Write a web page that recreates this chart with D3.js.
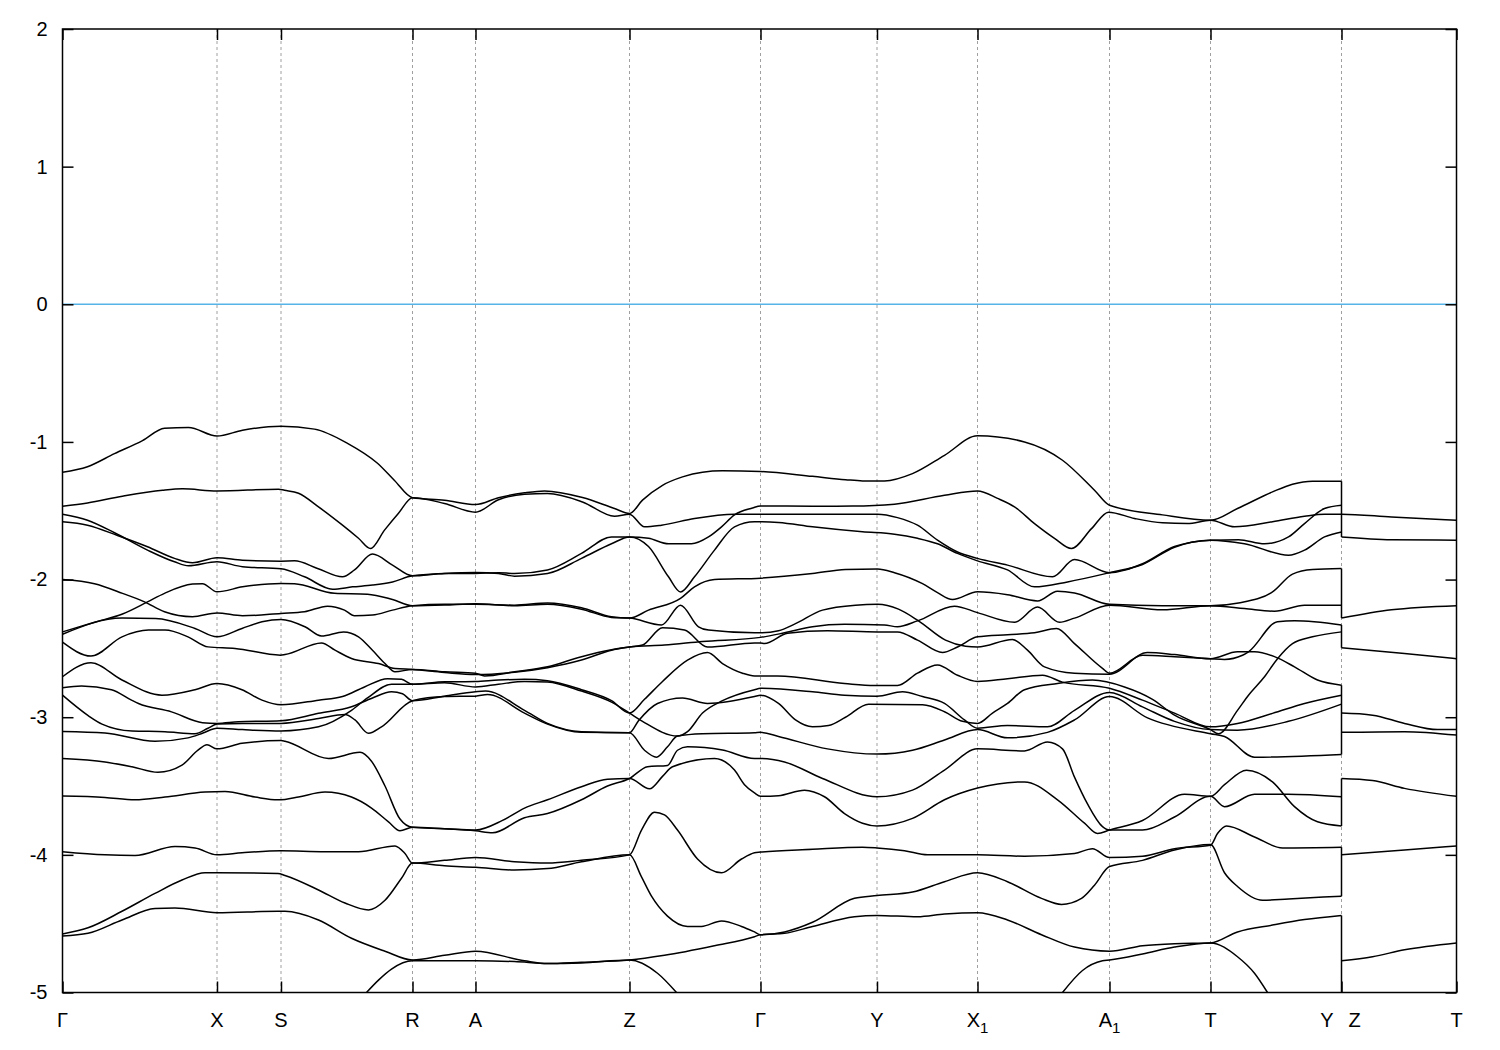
<!DOCTYPE html>
<html><head><meta charset="utf-8">
<script src="https://cdn.jsdelivr.net/npm/d3@7"></script>
<style>body{margin:0;background:#fff} svg{display:block}</style>
</head><body>
<svg id="c" width="1500" height="1050"></svg>
<script>
// High-symmetry path (path-length units) and labels
const kTicks = [0,154.5,218.5,350,413,567,698,814.5,915,1047,1148,1279,1394];
const kLabels = ["Γ","X","S","R","A","Z","Γ","Y","X_1","A_1","T","Y|Z","T"];
const yTicks = [2,1,0,-1,-2,-3,-4,-5];
const kBreak = 1279;

// Bands: [k, E(eV)]
const band01 = [[0,-1.22],[25,-1.18],[52,-1.085],[80,-0.99],[102,-0.90],[126,-0.895],[154.5,-0.957],[180,-0.915],[218.5,-0.886],[252,-0.907],[285,-1.01],[315,-1.155],[332,-1.28],[350,-1.405],[382,-1.423],[413,-1.455],[436,-1.405],[462,-1.37],[482,-1.356],[520,-1.404],[552,-1.484],[567,-1.52],[580,-1.423],[600,-1.315],[620,-1.254],[640,-1.22],[660,-1.21],[698,-1.215],[750,-1.25],[783,-1.274],[800,-1.283],[822,-1.283],[850,-1.23],[882,-1.097],[915,-0.955],[962,-1.0],[1000,-1.133],[1032,-1.351],[1047,-1.46],[1100,-1.53],[1148,-1.569],[1175,-1.484],[1210,-1.363],[1230,-1.307],[1250,-1.285],[1279,-1.285]];
const band02 = [[0,-1.467],[25,-1.443],[60,-1.394],[100,-1.351],[120,-1.341],[154.5,-1.356],[216,-1.343],[222,-1.351],[236,-1.373],[256,-1.472],[280,-1.605],[296,-1.70],[308,-1.774],[322,-1.641],[336,-1.518],[350,-1.405],[382,-1.447],[413,-1.51],[436,-1.42],[462,-1.38],[485,-1.375],[520,-1.436],[552,-1.54],[567,-1.525],[582,-1.617],[599,-1.605],[632,-1.556],[672,-1.525],[698,-1.525],[750,-1.525],[815,-1.525],[835,-1.55],[855,-1.605],[875,-1.714],[895,-1.80],[915,-1.846],[945,-1.895],[990,-1.98],[1012,-1.855],[1047,-1.95],[1080,-1.885],[1112,-1.76],[1148,-1.714],[1176,-1.71],[1202,-1.74],[1226,-1.69],[1242,-1.593],[1262,-1.484],[1279,-1.46]];
const band03 = [[0,-1.525],[25,-1.569],[52,-1.66],[85,-1.786],[112,-1.871],[126,-1.90],[154.5,-1.871],[180,-1.907],[218.5,-1.922],[242,-1.98],[270,-2.07],[290,-2.053],[310,-2.04],[330,-2.017],[350,-1.973],[382,-1.956],[413,-1.949],[436,-1.956],[452,-1.975],[485,-1.956],[519,-1.846],[549,-1.74],[567,-1.69],[586,-1.76],[606,-1.98],[618,-2.09],[632,-1.98],[652,-1.786],[672,-1.617],[692,-1.58],[698,-1.58],[716,-1.585],[750,-1.617],[800,-1.653],[832,-1.67],[855,-1.70],[875,-1.74],[895,-1.81],[915,-1.864],[945,-1.93],[972,-2.053],[1005,-2.017],[1047,-1.95],[1080,-1.89],[1112,-1.765],[1148,-1.714],[1182,-1.74],[1226,-1.823],[1242,-1.786],[1262,-1.69],[1279,-1.654]];
const band04 = [[0,-1.58],[25,-1.605],[55,-1.68],[85,-1.762],[112,-1.846],[130,-1.878],[154.5,-1.842],[180,-1.859],[218.5,-1.866],[232,-1.864],[255,-1.919],[280,-1.98],[292,-1.93],[310,-1.815],[330,-1.895],[350,-1.973],[382,-1.956],[413,-1.955],[436,-1.95],[452,-1.956],[485,-1.93],[519,-1.81],[549,-1.69],[567,-1.69],[586,-1.70],[606,-1.74],[629,-1.74],[646,-1.69],[659,-1.617],[672,-1.53],[690,-1.48],[698,-1.465],[750,-1.467],[790,-1.466],[832,-1.452],[882,-1.387],[915,-1.356],[935,-1.41],[952,-1.472],[972,-1.593],[992,-1.70],[1009,-1.774],[1029,-1.63],[1046,-1.51],[1072,-1.556],[1100,-1.588],[1125,-1.593],[1148,-1.569],[1172,-1.617],[1210,-1.58],[1242,-1.54],[1262,-1.525],[1279,-1.525],[1329,-1.545],[1394,-1.569]];
const band05 = [[0,-2.0],[32,-2.03],[60,-2.10],[82,-2.162],[102,-2.234],[130,-2.27],[154.5,-2.242],[180,-2.263],[218.5,-2.246],[242,-2.234],[265,-2.193],[282,-2.222],[292,-2.263],[310,-2.258],[330,-2.222],[350,-2.19],[382,-2.18],[413,-2.18],[452,-2.186],[485,-2.17],[519,-2.205],[549,-2.27],[567,-2.28],[586,-2.222],[618,-2.137],[632,-2.053],[652,-2.0],[698,-1.99],[750,-1.956],[783,-1.927],[815,-1.923],[832,-1.95],[860,-2.03],[875,-2.095],[890,-2.145],[915,-2.089],[945,-2.11],[975,-2.155],[995,-2.085],[1012,-2.097],[1047,-2.18],[1100,-2.19],[1148,-2.19],[1176,-2.17],[1210,-2.09],[1230,-1.96],[1250,-1.927],[1279,-1.92]];
const band06 = [[0,-2.38],[32,-2.31],[60,-2.25],[85,-2.162],[102,-2.10],[130,-2.033],[140,-2.03],[154.5,-2.089],[180,-2.053],[218.5,-2.028],[232,-2.03],[272,-2.10],[305,-2.106],[330,-2.145],[350,-2.19],[382,-2.185],[413,-2.175],[452,-2.19],[485,-2.18],[519,-2.215],[549,-2.275],[567,-2.28],[599,-2.33],[618,-2.186],[636,-2.343],[646,-2.367],[692,-2.387],[698,-2.387],[716,-2.372],[733,-2.32],[760,-2.222],[793,-2.186],[815,-2.18],[836,-2.215],[856,-2.30],[883,-2.44],[903,-2.484],[915,-2.49],[950,-2.435],[965,-2.513],[982,-2.634],[1012,-2.68],[1047,-2.687],[1085,-2.53],[1112,-2.545],[1148,-2.575],[1175,-2.525],[1192,-2.525],[1212,-2.56],[1232,-2.634],[1255,-2.73],[1279,-2.767]];
const band07 = [[0,-2.397],[59.5,-2.28],[93,-2.283],[132.5,-2.355],[154.5,-2.416],[179.5,-2.355],[199.5,-2.307],[218.5,-2.29],[242.5,-2.343],[259,-2.41],[281,-2.38],[296,-2.416],[309.5,-2.51],[322.5,-2.61],[332.5,-2.67],[350,-2.653],[382,-2.67],[413,-2.68],[422,-2.70],[452,-2.67],[485,-2.634],[519,-2.56],[549,-2.51],[567,-2.49],[602,-2.476],[640,-2.45],[698,-2.42],[722,-2.387],[750,-2.343],[782,-2.325],[822,-2.33],[835,-2.343],[855,-2.30],[892,-2.193],[915,-2.24],[952,-2.31],[975,-2.20],[997,-2.31],[1012,-2.28],[1047,-2.186],[1100,-2.22],[1148,-2.19],[1182,-2.21],[1212,-2.23],[1242,-2.186],[1279,-2.186]];
const band08 = [[0,-2.455],[28.5,-2.556],[59.5,-2.416],[86,-2.367],[102.5,-2.367],[125.5,-2.416],[145.5,-2.489],[172.5,-2.50],[218,-2.549],[222.5,-2.545],[259,-2.46],[272.5,-2.513],[289,-2.573],[316,-2.61],[332.5,-2.646],[350,-2.653],[382,-2.675],[413,-2.69],[452,-2.673],[485,-2.64],[519,-2.585],[549,-2.513],[567,-2.49],[580,-2.476],[600,-2.35],[622,-2.367],[645,-2.49],[692,-2.46],[698,-2.46],[702,-2.465],[725,-2.39],[765,-2.372],[815,-2.38],[835,-2.38],[855,-2.44],[880,-2.53],[895,-2.49],[915,-2.416],[945,-2.40],[972,-2.387],[994,-2.355],[1012,-2.465],[1040,-2.645],[1047,-2.68],[1080,-2.55],[1112,-2.56],[1148,-2.575],[1162,-2.58],[1180,-2.55],[1186,-2.525],[1215,-2.307],[1232,-2.30],[1279,-2.33]];
const band09 = [[0,-2.706],[28.5,-2.605],[59.5,-2.73],[99.5,-2.84],[132.5,-2.80],[154.5,-2.755],[179.5,-2.80],[199.5,-2.876],[218.5,-2.91],[256,-2.876],[280,-2.85],[302,-2.78],[325,-2.72],[339,-2.725],[350,-2.76],[382,-2.743],[413,-2.74],[436,-2.73],[462,-2.725],[485,-2.735],[519,-2.80],[549,-2.88],[567,-2.97],[582,-2.87],[600,-2.74],[625,-2.585],[645,-2.53],[660,-2.61],[680,-2.68],[692,-2.70],[715,-2.70],[782,-2.755],[812,-2.77],[835,-2.77],[855,-2.68],[875,-2.62],[895,-2.695],[915,-2.74],[945,-2.72],[980,-2.695],[1000,-2.745],[1047,-2.79],[1080,-2.876],[1112,-2.97],[1148,-3.07],[1175,-3.045],[1210,-2.972],[1242,-2.90],[1279,-2.84]];
const band10 = [[0,-3.104],[42.5,-3.115],[92.5,-3.175],[125.5,-3.15],[140.5,-3.115],[154.5,-3.08],[180,-3.09],[218.5,-3.10],[256,-3.07],[289,-2.95],[305,-2.86],[329,-2.76],[350,-2.76],[382,-2.75],[413,-2.78],[436,-2.76],[462,-2.74],[485,-2.745],[519,-2.81],[549,-2.89],[567,-2.97],[580,-3.03],[615,-3.137],[625,-3.105],[640,-2.97],[660,-2.88],[692,-2.80],[698,-2.79],[750,-2.815],[782,-2.84],[814.5,-2.847],[840,-2.815],[860,-2.85],[882,-2.90],[902,-3.02],[915,-3.08],[945,-3.06],[985,-3.07],[1012,-2.95],[1047,-2.82],[1080,-2.925],[1112,-3.03],[1148,-3.09],[1175,-3.094],[1226,-3.03],[1279,-2.905]];
const band11 = [[0,-2.786],[19,-2.774],[49,-2.80],[69,-2.876],[76,-2.90],[109,-2.961],[140,-3.04],[154.5,-3.045],[176,-3.033],[218.5,-3.026],[256,-2.972],[289,-2.924],[310,-2.86],[329,-2.815],[340,-2.83],[350,-2.88],[382,-2.847],[413,-2.815],[423,-2.81],[462,-2.95],[485,-3.045],[519,-3.105],[567,-3.113],[576,-3.026],[595,-2.90],[620,-2.86],[645,-2.90],[692,-2.85],[698,-2.84],[716,-2.90],[733,-3.02],[750,-3.07],[766,-3.06],[783,-3.00],[806,-2.905],[860,-2.91],[882,-2.96],[900,-3.03],[915,-3.045],[930,-2.97],[945,-2.90],[962,-2.80],[995,-2.755],[1030,-2.73],[1062,-2.78],[1090,-2.87],[1112,-2.985],[1148,-3.09],[1156,-3.12],[1175,-2.95],[1186,-2.84],[1202,-2.706],[1215,-2.575],[1230,-2.465],[1250,-2.416],[1279,-2.38]];
const band12 = [[0,-2.84],[26,-2.99],[39.5,-3.05],[69.5,-3.10],[102.5,-3.105],[132.5,-3.12],[145.5,-3.08],[154.5,-3.05],[180,-3.045],[218.5,-3.045],[256,-3.01],[282.5,-2.98],[292.5,-3.02],[306,-3.117],[319,-3.07],[350,-2.88],[382,-2.85],[413,-2.847],[425,-2.835],[462,-2.97],[485,-3.05],[519,-3.11],[567,-3.113],[582,-3.24],[594,-3.29],[605,-3.215],[615,-3.137],[640,-3.12],[692,-3.113],[698,-3.11],[716,-3.14],[765,-3.23],[814.5,-3.268],[850,-3.24],[882,-3.166],[915,-3.09],[945,-3.15],[985,-3.11],[1012,-3.02],[1047,-2.85],[1085,-3.005],[1148,-3.12],[1162,-3.14],[1192,-3.29],[1279,-3.27]];
const band13 = [[0,-3.30],[42.5,-3.325],[69.5,-3.36],[95.5,-3.40],[119.5,-3.348],[135.5,-3.239],[144.5,-3.20],[154.5,-3.23],[179.5,-3.19],[218.5,-3.17],[222.5,-3.175],[266,-3.30],[297.5,-3.255],[309,-3.32],[322.5,-3.50],[337.5,-3.74],[350,-3.80],[382,-3.81],[413,-3.825],[430,-3.84],[462,-3.73],[485,-3.70],[519,-3.60],[545,-3.50],[567,-3.445],[585,-3.36],[605,-3.35],[615,-3.24],[625,-3.215],[660,-3.239],[692,-3.30],[698,-3.30],[722,-3.325],[760,-3.445],[814.5,-3.578],[850,-3.53],[882,-3.384],[915,-3.23],[962,-3.245],[985,-3.18],[1000,-3.23],[1012,-3.435],[1025,-3.63],[1040,-3.795],[1047,-3.82],[1080,-3.82],[1112,-3.725],[1148,-3.575],[1162,-3.65],[1192,-3.56],[1225,-3.56],[1279,-3.578]];
const band14 = [[0,-3.573],[42.5,-3.583],[72.5,-3.60],[102.5,-3.58],[142.5,-3.544],[162.5,-3.54],[192.5,-3.58],[215.5,-3.60],[222.5,-3.597],[236,-3.58],[262.5,-3.544],[289,-3.58],[309,-3.66],[326,-3.76],[337.5,-3.825],[350,-3.80],[382,-3.81],[413,-3.82],[440,-3.75],[462,-3.66],[485,-3.60],[519,-3.505],[545,-3.45],[567,-3.445],[587,-3.52],[600,-3.43],[610,-3.36],[652,-3.30],[672,-3.384],[682,-3.49],[692,-3.55],[698,-3.575],[716,-3.57],[742,-3.53],[762,-3.578],[782,-3.70],[800,-3.77],[814.5,-3.79],[850,-3.735],[882,-3.60],[915,-3.515],[962,-3.47],[995,-3.60],[1022,-3.77],[1035,-3.845],[1047,-3.82],[1080,-3.75],[1122,-3.56],[1148,-3.575],[1162,-3.49],[1184,-3.385],[1210,-3.47],[1232,-3.65],[1255,-3.76],[1279,-3.79]];
const band15 = [[0,-3.977],[42.5,-4.0],[72.5,-4.005],[112.5,-3.94],[132.5,-3.95],[154.5,-4.0],[179.5,-3.985],[218.5,-3.97],[262.5,-3.977],[296,-3.977],[332.5,-3.935],[342.5,-3.99],[350,-4.06],[382,-4.04],[413,-4.02],[452,-4.05],[485,-4.06],[519,-4.04],[567,-4.0],[579,-3.82],[592,-3.69],[602,-3.71],[615,-3.82],[635,-4.03],[659,-4.13],[679,-4.03],[692,-3.985],[698,-3.98],[750,-3.96],[800,-3.945],[814.5,-3.95],[842,-3.97],[865,-4.0],[915,-4.0],[962,-4.01],[1012,-3.99],[1030,-3.955],[1047,-4.02],[1080,-4.01],[1112,-3.955],[1148,-3.93],[1155,-3.845],[1164,-3.79],[1192,-3.87],[1220,-3.95],[1279,-3.945]];
const band16 = [[0,-4.575],[25.5,-4.53],[59.5,-4.41],[92.5,-4.28],[119.5,-4.183],[142.5,-4.13],[154.5,-4.13],[215.5,-4.135],[222.5,-4.15],[256,-4.255],[282.5,-4.35],[306,-4.40],[322.5,-4.33],[339,-4.17],[350,-4.06],[382,-4.08],[413,-4.09],[452,-4.11],[485,-4.10],[519,-4.05],[567,-4.0],[579,-4.16],[589,-4.30],[605,-4.445],[625,-4.52],[639,-4.52],[659,-4.48],[679,-4.52],[692,-4.56],[698,-4.58],[722,-4.56],[750,-4.49],[792,-4.316],[814.5,-4.296],[850,-4.27],[882,-4.195],[915,-4.13],[945,-4.195],[979,-4.316],[999,-4.36],[1019,-4.316],[1032,-4.22],[1047,-4.085],[1080,-4.04],[1112,-3.965],[1148,-3.925],[1162,-4.13],[1175,-4.23],[1200,-4.33],[1226,-4.32],[1279,-4.30]];
const band17 = [[0,-4.59],[25.5,-4.57],[59.5,-4.473],[92.5,-4.39],[112.5,-4.386],[154.5,-4.42],[215.5,-4.41],[222.5,-4.41],[256,-4.473],[289,-4.606],[322.5,-4.70],[350,-4.764],[382,-4.73],[413,-4.70],[462,-4.77],[485,-4.79],[519,-4.78],[567,-4.764],[602,-4.73],[652,-4.66],[692,-4.595],[698,-4.58],[722,-4.57],[750,-4.52],[792,-4.45],[814.5,-4.44],[855,-4.45],[882,-4.43],[915,-4.42],[945,-4.473],[979,-4.58],[1012,-4.67],[1047,-4.70],[1080,-4.66],[1112,-4.645],[1148,-4.64],[1175,-4.56],[1210,-4.51],[1242,-4.47],[1279,-4.44]];
const band18 = [[304,-5.0],[316,-4.91],[329,-4.83],[350,-4.77],[382,-4.77],[413,-4.77],[452,-4.775],[485,-4.79],[519,-4.785],[567,-4.764],[595,-4.86],[614,-5.0]];
const band19 = [[1000,-5.0],[1020,-4.84],[1040,-4.77],[1047,-4.764],[1080,-4.72],[1112,-4.67],[1148,-4.64],[1175,-4.74],[1192,-4.86],[1205,-5.0]];

// Z -> T segment (after the path break)
const zt2 = [[1279,-1.69],[1329,-1.71],[1394,-1.714]];
const zt3 = [[1279,-2.28],[1329,-2.22],[1394,-2.19]];
const zt4 = [[1279,-2.495],[1342,-2.537],[1394,-2.575]];
const zt5 = [[1279,-2.97],[1310,-2.985],[1342,-3.045],[1375,-3.09],[1394,-3.09]];
const zt6 = [[1279,-3.11],[1342,-3.105],[1394,-3.13]];
const zt7 = [[1279,-3.445],[1310,-3.46],[1342,-3.517],[1394,-3.575]];
const zt8 = [[1279,-4.0],[1342,-3.965],[1394,-3.935]];
const zt9 = [[1279,-4.77],[1310,-4.74],[1342,-4.69],[1394,-4.64]];
// vertical jumps of bands at the Y|Z break
const yzJumps = [[-1.285,-1.69],[-1.92,-2.28],[-2.33,-2.495],[-2.767,-3.27],[-3.445,-3.79],[-3.945,-4.30],[-4.44,-5]];

const bands = [band01,band02,band03,band04,band05,band06,band07,band08,band09,band10,band11,band12,band13,band14,band15,band16,band17,band18,band19];
const ztLines = [zt2,zt3,zt4,zt5,zt6,zt7,zt8,zt9];

const L=62.5, R=1456.5, T=29, B=992.5;
const FONT = "'Liberation Sans', Arial, Helvetica, sans-serif";
const x = d3.scaleLinear().domain([0,1394]).range([L,R]);
const y = d3.scaleLinear().domain([-5,2]).range([B,T]);
const svg = d3.select("#c");

svg.append("defs").append("clipPath").attr("id","clip")
  .append("rect").attr("x",L).attr("y",T).attr("width",R-L).attr("height",B-T);

// dashed grid at interior high-symmetry points
svg.append("g").selectAll("line").data(kTicks.slice(1,-1)).join("line")
  .attr("x1",d=>x(d)).attr("x2",d=>x(d)).attr("y1",T).attr("y2",B)
  .attr("stroke","#a0a0a0").attr("stroke-width",1).attr("stroke-dasharray","3,3");

// Fermi level
svg.append("line").attr("x1",L).attr("x2",R).attr("y1",y(0)).attr("y2",y(0))
  .attr("stroke","#56b4e9").attr("stroke-width",1.5);

const line = d3.line().x(d=>x(d[0])).y(d=>y(d[1])).curve(d3.curveMonotoneX);
const gb = svg.append("g").attr("clip-path","url(#clip)");
gb.selectAll("path").data(bands.concat(ztLines)).join("path")
  .attr("d",line).attr("fill","none").attr("stroke","#000").attr("stroke-width",1.5)
  .attr("stroke-linejoin","round");
gb.selectAll("line").data(yzJumps).join("line")
  .attr("x1",x(kBreak)).attr("x2",x(kBreak)).attr("y1",d=>y(d[0])).attr("y2",d=>y(d[1]))
  .attr("stroke","#000").attr("stroke-width",1.5);

// axes (inward ticks, mirrored)
function styleAxis(g){ g.select(".domain").remove(); g.selectAll(".tick line").attr("stroke","#000").attr("stroke-width",1.5);
  g.selectAll(".tick text").attr("font-family",FONT).attr("font-size",20).attr("fill","#000"); }
svg.append("g").attr("transform",`translate(${L},0)`)
  .call(d3.axisLeft(y).tickValues(yTicks).tickSize(-11).tickPadding(15).tickFormat(d=>String(d))).call(styleAxis);
svg.append("g").attr("transform",`translate(${R},0)`)
  .call(d3.axisRight(y).tickValues(yTicks).tickSize(-11).tickFormat("")).call(styleAxis);
svg.append("g").attr("transform",`translate(0,${B})`)
  .call(d3.axisBottom(x).tickValues(kTicks).tickSize(-11).tickFormat("")).call(styleAxis);
svg.append("g").attr("transform",`translate(0,${T})`)
  .call(d3.axisTop(x).tickValues(kTicks).tickSize(-11).tickFormat("")).call(styleAxis);

// border
svg.append("rect").attr("x",L).attr("y",T).attr("width",R-L).attr("height",B-T)
  .attr("fill","none").attr("stroke","#000").attr("stroke-width",1.5);

// k-point labels
const lab = svg.append("g").attr("font-family",FONT).attr("font-size",20).attr("fill","#000");
kTicks.forEach((k,i)=>{
  const s = kLabels[i];
  if (s.includes("|")) {
    const [a,b] = s.split("|");
    lab.append("text").attr("x",x(k)-8).attr("y",1027).attr("text-anchor","end").text(a);
    lab.append("text").attr("x",x(k)+7).attr("y",1027).attr("text-anchor","start").text(b);
    return;
  }
  const t = lab.append("text").attr("x",x(k)).attr("y",1027).attr("text-anchor","middle");
  if (s.includes("_")) {
    const [a,b] = s.split("_");
    t.append("tspan").text(a);
    t.append("tspan").attr("dy",6).attr("font-size",15).text(b);
  } else t.text(s);
});
</script>
</body></html>
